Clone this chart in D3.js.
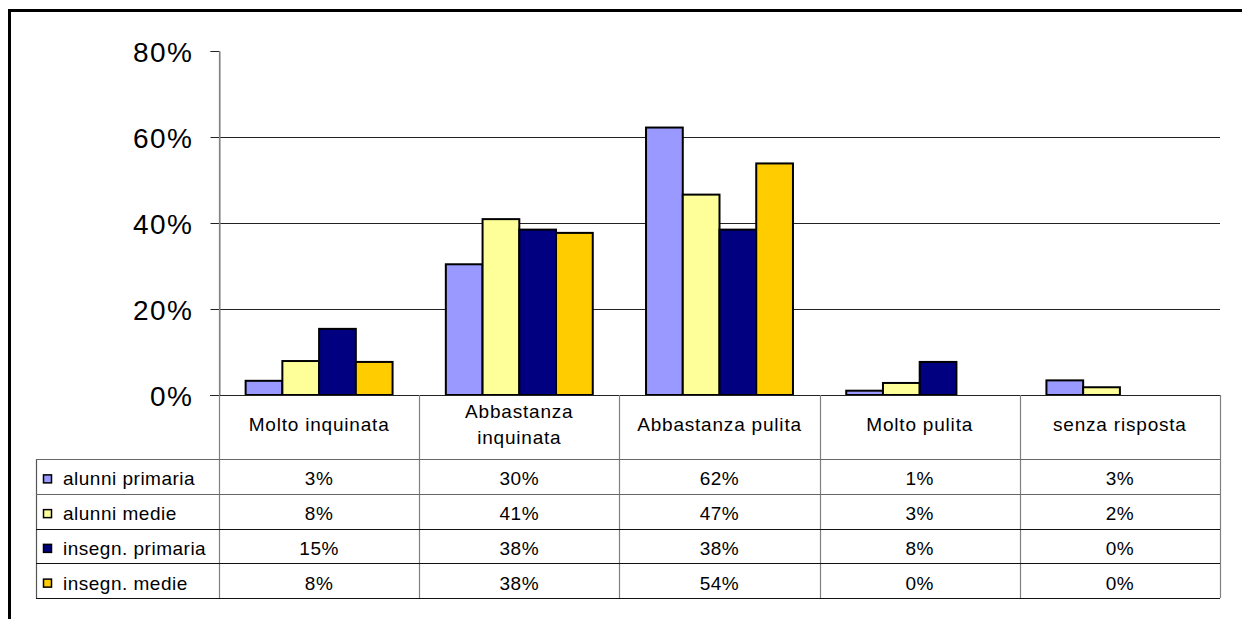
<!DOCTYPE html>
<html>
<head>
<meta charset="utf-8">
<script src="https://cdn.jsdelivr.net/npm/d3@7"></script>
<style>
  html, body { margin: 0; padding: 0; background: #fff; }
  svg { display: block; font-family: "Liberation Sans", Arial, sans-serif; }
</style>
</head>
<body>
<svg id="chart" width="1242" height="619"></svg>
<script>
// ---- data ----
const categories = ["Molto inquinata", "Abbastanza inquinata", "Abbastanza pulita", "Molto pulita", "senza risposta"];
const seriesNames = ["alunni primaria", "alunni medie", "insegn. primaria", "insegn. medie"];
const seriesColors = ["#9999FF", "#FFFF99", "#000080", "#FFCC00"];
const alunniPrimaria = [0.033, 0.304, 0.622, 0.010, 0.034];
const alunniMedie    = [0.079, 0.409, 0.466, 0.028, 0.018];
const insegnPrimaria = [0.1538, 0.3846, 0.3846, 0.0769, 0.0];
const insegnMedie    = [0.0769, 0.377, 0.5385, 0.0, 0.0];
const seriesValues = [alunniPrimaria, alunniMedie, insegnPrimaria, insegnMedie];
const yTicks = [0, 0.2, 0.4, 0.6, 0.8];

// ---- layout ----
const svg = d3.select("#chart");
const plotLeft = 219, plotRight = 1220, plotTop = 51, plotBottom = 395;
const headerBottom = 459, tableBottom = 598, tableLeft = 36;

svg.append("rect").attr("width", 1242).attr("height", 619).attr("fill", "#fff");

const y = d3.scaleLinear().domain([0, 0.8]).range([plotBottom, plotTop]);
const x = d3.scaleBand().domain(categories).range([plotLeft, plotRight]).padding(0);
const xs = d3.scaleBand().domain(seriesNames).range([0, x.bandwidth()]).paddingInner(0).paddingOuter(0.725);
const rowY = d3.scaleBand().domain(seriesNames).range([headerBottom, tableBottom]).padding(0);
const fmt = d3.format(".0%");

// outer frame (top + left visible)
svg.append("line").attr("x1", 8).attr("x2", 1242).attr("y1", 10.5).attr("y2", 10.5)
  .attr("stroke", "#000").attr("stroke-width", 3);
svg.append("line").attr("x1", 9.5).attr("x2", 9.5).attr("y1", 9).attr("y2", 619)
  .attr("stroke", "#000").attr("stroke-width", 3);

// gridlines
svg.append("g").selectAll("line").data(yTicks.filter(d => d > 0 && d < 0.8)).join("line")
  .attr("x1", plotLeft).attr("x2", plotRight)
  .attr("y1", d => Math.round(y(d)) + 0.5).attr("y2", d => Math.round(y(d)) + 0.5)
  .attr("stroke", "#222").attr("stroke-width", 1);

// y axis
const yAxis = d3.axisLeft(y).tickValues(yTicks).tickFormat(d3.format(".0%")).tickSize(9).tickPadding(17);
const gy = svg.append("g").attr("transform", `translate(${plotLeft + 0.5},0)`).call(yAxis);
gy.select(".domain").attr("stroke", "#808080");
gy.selectAll(".tick line").attr("stroke", "#222");
gy.selectAll(".tick text").attr("font-size", 28).attr("letter-spacing", "1.5px")
  .attr("font-family", "Liberation Sans, Arial, sans-serif").attr("fill", "#000").attr("dy", "0.36em");

// bars
const gBars = svg.append("g");
seriesNames.forEach((s, si) => {
  gBars.append("g").selectAll("rect").data(categories.map((c, ci) => ({ c, v: seriesValues[si][ci] })))
    .join("rect")
    .filter(d => d.v > 0)
    .attr("x", d => x(d.c) + xs(s))
    .attr("y", d => y(d.v))
    .attr("width", xs.bandwidth())
    .attr("height", d => y(0) - y(d.v))
    .attr("fill", seriesColors[si])
    .attr("stroke", "#000").attr("stroke-width", 2);
});

// x axis baseline
svg.append("line").attr("x1", 210).attr("x2", plotRight).attr("y1", plotBottom + 0.5).attr("y2", plotBottom + 0.5)
  .attr("stroke", "#222").attr("stroke-width", 1.2);

// data table
const gT = svg.append("g");
const vx = [plotLeft].concat(categories.map(c => x(c) + x.bandwidth()));
gT.selectAll("line.v").data(vx).join("line").attr("class", "v")
  .attr("x1", d => Math.round(d) + 0.5).attr("x2", d => Math.round(d) + 0.5)
  .attr("y1", (d, i) => i === 0 ? plotTop : plotBottom).attr("y2", tableBottom)
  .attr("stroke", "#808080").attr("stroke-width", 1.2);
gT.append("line").attr("x1", tableLeft + 0.5).attr("x2", tableLeft + 0.5)
  .attr("y1", headerBottom).attr("y2", tableBottom).attr("stroke", "#555").attr("stroke-width", 1.2);
const hy = seriesNames.map(s => rowY(s)).concat([tableBottom]);
gT.selectAll("line.h").data(hy).join("line").attr("class", "h")
  .attr("x1", tableLeft).attr("x2", plotRight)
  .attr("y1", d => Math.round(d) + 0.5).attr("y2", d => Math.round(d) + 0.5)
  .attr("stroke", (d, i) => i < 2 ? "#666" : "#111").attr("stroke-width", 1.2);

// header labels (wrapped)
const hdr = gT.selectAll("text.hdr").data(categories).join("text").attr("class", "hdr")
  .attr("text-anchor", "middle").attr("font-size", 19).attr("letter-spacing", "0.8px").attr("fill", "#000");
hdr.each(function (c) {
  const t = d3.select(this);
  const cx = x(c) + x.bandwidth() / 2;
  t.text(c);
  let lines = [c];
  if (this.getComputedTextLength() > 185) {
    const words = c.split(" ");
    lines = [words.slice(0, -1).join(" "), words[words.length - 1]];
  }
  t.text(null);
  const lh = 26;
  const y0 = (plotBottom + headerBottom) / 2 + 4 - (lines.length - 1) * lh / 2;
  lines.forEach((ln, i) => {
    t.append("tspan").attr("x", cx).attr("y", y0 + i * lh).text(ln);
  });
});

// rows
seriesNames.forEach((s, si) => {
  const cy = rowY(s) + rowY.bandwidth() / 2;
  gT.append("rect").attr("x", 43.5).attr("y", cy - 1.5).attr("width", 8).attr("height", 8)
    .attr("fill", seriesColors[si]).attr("stroke", "#000").attr("stroke-width", 1.5);
  gT.append("text").attr("x", 63).attr("y", cy + 9).attr("font-size", 19).attr("letter-spacing", "0.5px")
    .attr("fill", "#000").text(s);
  gT.append("g").selectAll("text").data(categories).join("text")
    .attr("x", c => x(c) + x.bandwidth() / 2).attr("y", cy + 9)
    .attr("text-anchor", "middle").attr("font-size", 19).attr("letter-spacing", "0.5px").attr("fill", "#000")
    .text((c, ci) => fmt(seriesValues[si][ci]));
});
</script>
</body>
</html>
